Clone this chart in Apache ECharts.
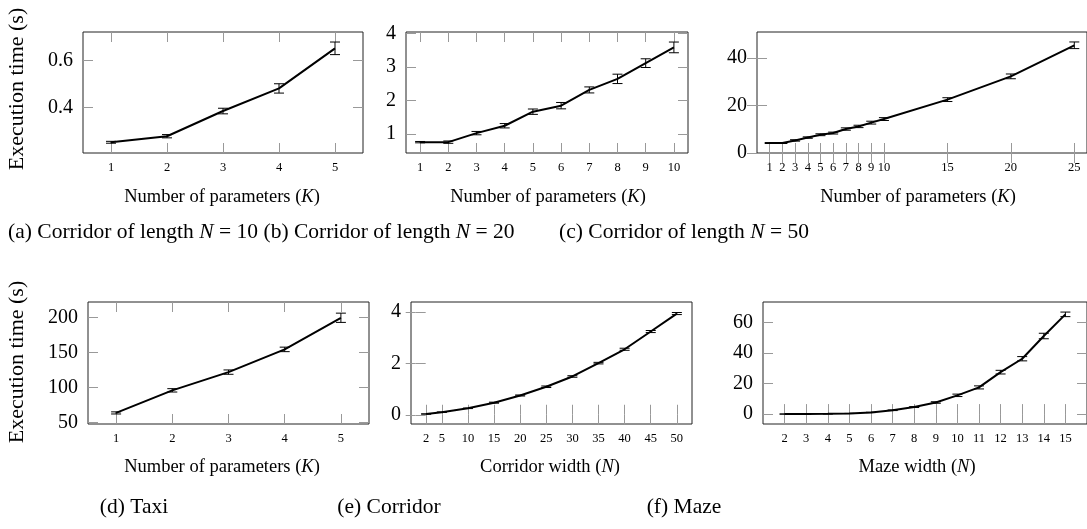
<!DOCTYPE html>
<html lang="en">
<head>
<meta charset="UTF-8">
<title>Execution time</title>
<script src="https://cdn.jsdelivr.net/npm/echarts@6/dist/echarts.min.js"></script>
<style>
  html, body { margin: 0; padding: 0; background: #fff; }
  #main { width: 1087px; height: 529px; }
</style>
</head>
<body>
<div id="main"></div>
<script type="text/javascript">
// (a) corridor N = 10
var kA = [1, 2, 3, 4, 5];
var timeA = [0.25, 0.276, 0.384, 0.481, 0.653];
var errA = [0.004, 0.007, 0.012, 0.02, 0.027];
// (b) corridor N = 20
var kB = [1, 2, 3, 4, 5, 6, 7, 8, 9, 10];
var timeB = [0.76, 0.76, 1.03, 1.25, 1.67, 1.85, 2.32, 2.65, 3.12, 3.59];
var errB = [0.02, 0.035, 0.05, 0.065, 0.08, 0.095, 0.09, 0.14, 0.13, 0.16];
// (c) corridor N = 50
var kC = [1, 2, 3, 4, 5, 6, 7, 8, 9, 10, 15, 20, 25];
var timeC = [4.2, 4.2, 5.3, 6.5, 7.7, 8.4, 10.1, 11.2, 12.8, 14.3, 22.5, 32.3, 45.4];
var errC = [0.2, 0.2, 0.3, 0.3, 0.4, 0.4, 0.5, 0.5, 0.6, 0.6, 0.8, 1.0, 1.4];
// (d) taxi
var kD = [1, 2, 3, 4, 5];
var timeD = [63.8, 96, 122, 154.4, 199.5];
var errD = [1.5, 2.4, 3.1, 3.2, 6.6];
// (e) corridor width
var nE = [2, 5, 10, 15, 20, 25, 30, 35, 40, 45, 50];
var timeE = [0.03, 0.1, 0.25, 0.47, 0.75, 1.09, 1.49, 2.01, 2.55, 3.24, 3.94];
var errE = [0.005, 0.01, 0.01, 0.02, 0.02, 0.03, 0.03, 0.03, 0.04, 0.04, 0.04];
// (f) maze width
var nF = [2, 3, 4, 5, 6, 7, 8, 9, 10, 11, 12, 13, 14, 15];
var timeF = [0.02, 0.05, 0.15, 0.4, 1.1, 2.5, 4.6, 7.6, 12.3, 17.5, 27.5, 36.3, 51.2, 65.4];
var errF = [0, 0, 0, 0.05, 0.1, 0.2, 0.3, 0.5, 0.8, 1.0, 1.2, 1.4, 1.8, 1.5];

// tick labels
var yTicksA = [0.4, 0.6];
var yTicksB = [1, 2, 3, 4];
var yTicksC = [0, 20, 40];
var yTicksD = [50, 100, 150, 200];
var yTicksE = [0, 2, 4];
var yTicksF = [0, 20, 40, 60];

var FONT = '"Liberation Serif", "DejaVu Serif", serif';

var panels = [
  { x: kA, y: timeA, e: errA, xt: kA, yt: yTicksA, xr: [0.5, 5.5], yr: [0.204, 0.723], box: [83, 32, 280, 121] },
  { x: kB, y: timeB, e: errB, xt: kB, yt: yTicksB, xr: [0.5, 10.5], yr: [0.436, 4.05], box: [406, 32, 282, 121] },
  { x: kC, y: timeC, e: errC, xt: kC, yt: yTicksC, xr: [0, 26], yr: [0, 51], box: [757, 32, 333, 121] },
  { x: kD, y: timeD, e: errD, xt: kD, yt: yTicksD, xr: [0.5, 5.5], yr: [48, 222], box: [88, 302, 281, 122] },
  { x: nE, y: timeE, e: errE, xt: nE, yt: yTicksE, xr: [-0.9, 52.9], yr: [-0.36, 4.39], box: [411, 302, 281, 122] },
  { x: nF, y: timeF, e: errF, xt: nF, yt: yTicksF, xr: [1, 16], yr: [-6.5, 73.5], box: [763, 302, 335, 122] }
];

function errorBar(params, api) {
  var x = api.value(0), y = api.value(1), e = api.value(2);
  var hi = api.coord([x, y + e]);
  var lo = api.coord([x, y - e]);
  var w = 5;
  var st = { stroke: '#000', lineWidth: 1 };
  return {
    type: 'group',
    children: [
      { type: 'line', shape: { x1: hi[0], y1: hi[1], x2: lo[0], y2: lo[1] }, style: st },
      { type: 'line', shape: { x1: hi[0] - w, y1: hi[1], x2: hi[0] + w, y2: hi[1] }, style: st },
      { type: 'line', shape: { x1: lo[0] - w, y1: lo[1], x2: lo[0] + w, y2: lo[1] }, style: st }
    ]
  };
}

var grids = [], xAxes = [], yAxes = [], series = [];
var tick = { show: true, inside: true, length: 10, lineStyle: { color: '#999', width: 1 } };

panels.forEach(function (p, i) {
  grids.push({
    left: p.box[0], top: p.box[1], width: p.box[2], height: p.box[3],
    show: true, borderColor: '#222', borderWidth: 1, backgroundColor: 'transparent'
  });
  ['bottom', 'top'].forEach(function (pos) {
    xAxes.push({
      type: 'value', gridIndex: i, position: pos, min: p.xr[0], max: p.xr[1],
      axisLine: { show: false }, splitLine: { show: false },
      axisTick: Object.assign({ customValues: p.xt }, tick),
      axisLabel: {
        show: pos === 'bottom', customValues: p.xt, margin: 8,
        fontFamily: FONT, fontSize: 12.5, color: '#000'
      }
    });
  });
  ['left', 'right'].forEach(function (pos) {
    yAxes.push({
      type: 'value', gridIndex: i, position: pos, min: p.yr[0], max: p.yr[1],
      axisLine: { show: false }, splitLine: { show: false },
      axisTick: Object.assign({ customValues: p.yt }, tick),
      axisLabel: {
        show: pos === 'left', customValues: p.yt, margin: 10,
        fontFamily: FONT, fontSize: 20, color: '#000'
      }
    });
  });
  series.push({
    type: 'line', xAxisIndex: 2 * i, yAxisIndex: 2 * i,
    data: p.x.map(function (v, j) { return [v, p.y[j]]; }),
    showSymbol: false, lineStyle: { color: '#000', width: 2 }, z: 3
  });
  series.push({
    type: 'custom', xAxisIndex: 2 * i, yAxisIndex: 2 * i,
    data: p.x.map(function (v, j) { return [v, p.y[j], p.e[j]]; }),
    encode: { x: 0, y: 1 }, renderItem: errorBar, z: 4
  });
});

function label(txt, x, y, size, rot) {
  return {
    type: 'text', x: x, y: y, rotation: rot || 0,
    style: {
      text: txt, fontFamily: FONT, fontSize: size, fill: '#000',
      align: 'center', verticalAlign: 'middle',
      rich: { i: { fontFamily: FONT, fontSize: size, fontStyle: 'italic' } }
    }
  };
}

var graphics = [
  label('Execution time (s)', 17, 89, 22, Math.PI / 2),
  label('Execution time (s)', 17, 362, 22, Math.PI / 2),
  label('Number of parameters ({i|K})', 222, 197, 18.5),
  label('Number of parameters ({i|K})', 548, 197, 18.5),
  label('Number of parameters ({i|K})', 918, 197, 18.5),
  label('Number of parameters ({i|K})', 222, 467, 18.5),
  label('Corridor width ({i|N})', 550, 467, 18.5),
  label('Maze width ({i|N})', 917, 467, 18.5),
  label('(a) Corridor of length {i|N} = 10', 133, 232, 21.5),
  label('(b) Corridor of length {i|N} = 20', 389, 232, 21.5),
  label('(c) Corridor of length {i|N} = 50', 684, 232, 21.5),
  label('(d) Taxi', 134, 507, 21.5),
  label('(e) Corridor', 389, 507, 21.5),
  label('(f) Maze', 684, 507, 21.5)
];

var myChart = echarts.init(document.getElementById('main'), null, { renderer: 'canvas' });
myChart.setOption({
  animation: false,
  grid: grids,
  xAxis: xAxes,
  yAxis: yAxes,
  series: series,
  graphic: graphics
});
window.addEventListener('resize', myChart.resize);
</script>
</body>
</html>
